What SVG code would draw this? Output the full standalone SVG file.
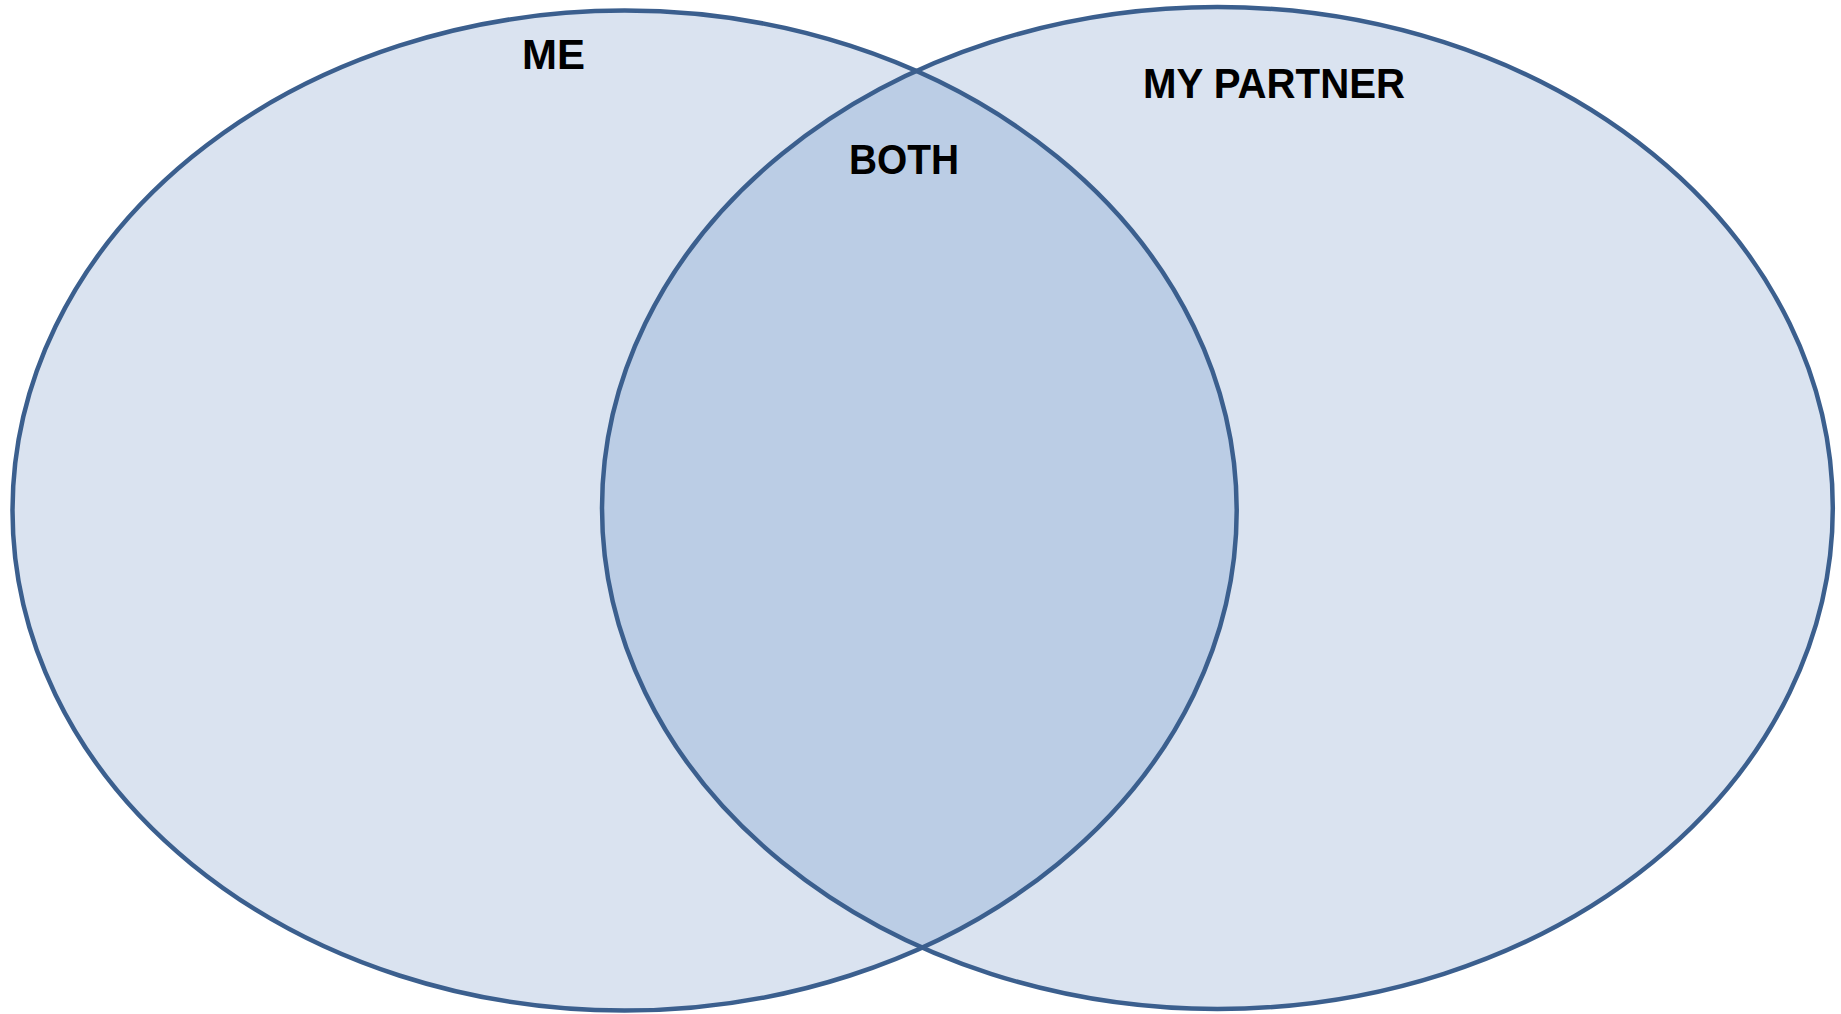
<svg xmlns="http://www.w3.org/2000/svg" width="1841" height="1014" viewBox="0 0 1841 1014">
<style>
.fill{fill:#DAE3F0;stroke:none}
.line{fill:none;stroke:#3B5F8E;stroke-width:4.5}
.lbl{font-family:"Liberation Sans",Arial,sans-serif;font-weight:bold;font-size:43px;fill:#000}
</style>
<defs>
<clipPath id="clipLeft"><ellipse cx="624.6" cy="510.6" rx="612.1" ry="500"/></clipPath>
</defs>
<rect width="1841" height="1014" fill="#fff"/>
<g id="me">
<ellipse class="fill" cx="624.6" cy="510.6" rx="612.1" ry="500"/>
</g>
<g id="partner">
<ellipse class="fill" cx="1217.4" cy="508" rx="615.4" ry="501"/>
</g>
<g id="both">
<ellipse cx="1217.4" cy="508" rx="615.4" ry="501" fill="#BBCDE5" clip-path="url(#clipLeft)"/>
</g>
<g id="outlines">
<ellipse class="line" cx="624.6" cy="510.6" rx="612.1" ry="500"/>
<ellipse class="line" cx="1217.4" cy="508" rx="615.4" ry="501"/>
</g>
<g id="labels">
<text class="lbl" x="522" y="69" textLength="63" lengthAdjust="spacingAndGlyphs">ME</text>
<text class="lbl" x="1143" y="98" textLength="262" lengthAdjust="spacingAndGlyphs">MY PARTNER</text>
<text class="lbl" x="849" y="174" textLength="110" lengthAdjust="spacingAndGlyphs">BOTH</text>
</g>
</svg>
